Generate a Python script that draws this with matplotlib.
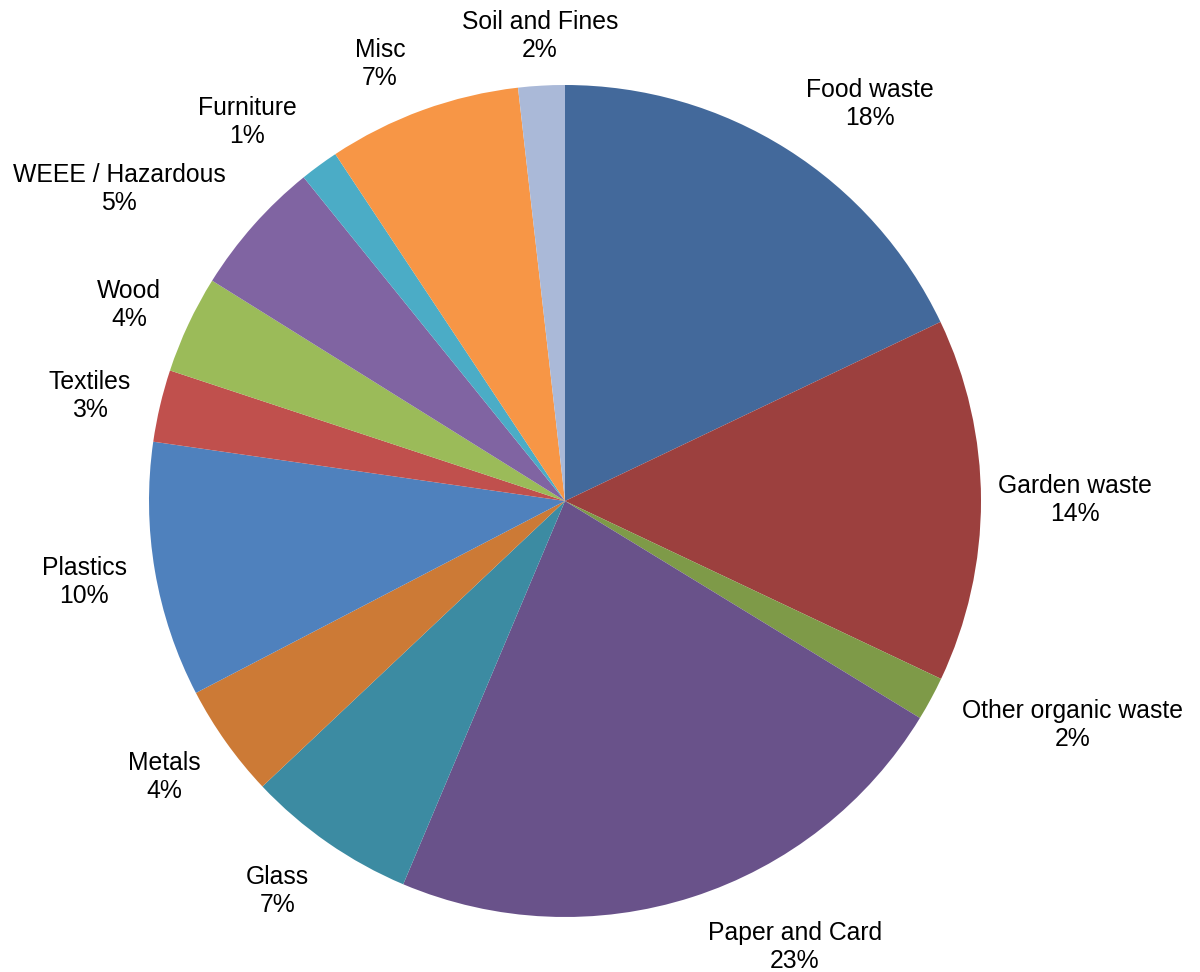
import matplotlib
matplotlib.use("Agg")
import matplotlib.pyplot as plt

plt.rcParams["font.family"] = ["Liberation Sans", "DejaVu Sans"]

# ── Data (clockwise from 12 o'clock) ─────────────────────────────────────────
categories = [
    "Food waste", "Garden waste", "Other organic waste", "Paper and Card",
    "Glass", "Metals", "Plastics", "Textiles", "Wood", "WEEE / Hazardous",
    "Furniture", "Misc", "Soil and Fines",
]
shares = [17.9, 14.1, 1.7, 22.6, 6.6, 4.4, 9.9, 2.8, 3.8, 5.3, 1.5, 7.5, 1.8]
shown_pct = [18, 14, 2, 23, 7, 4, 10, 3, 4, 5, 1, 7, 2]

colors = [
    "#43699B", "#9C403E", "#7E9A48", "#69528A", "#3C8BA2", "#CC7A36",
    "#4F81BD", "#C0504D", "#9BBB59", "#8064A2", "#4BACC6", "#F79646",
    "#AAB9D8",
]

# label centres in pie-radius units (Excel "best fit" placement)
label_xy = [
    (0.733, 0.954), (1.226, 0.002), (1.221, -0.538), (0.553, -1.072),
    (-0.692, -0.938), (-0.964, -0.663), (-1.156, -0.195), (-1.142, 0.252),
    (-1.048, 0.471), (-1.072, 0.750), (-0.764, 0.911), (-0.445, 1.050),
    (-0.060, 1.118),
]

# ── Figure ───────────────────────────────────────────────────────────────────
W, H, R = 1200, 972, 416          # pixels; R = pie radius
CX, CY = 565, 501                 # pie centre in pixels (from top-left)

fig = plt.figure(figsize=(W / 100, H / 100), dpi=100, facecolor="white")
ax = fig.add_axes([0, 0, 1, 1])

ax.pie(shares, colors=colors, startangle=90, counterclock=False,
       wedgeprops=dict(linewidth=0))

for name, pct, (x, y) in zip(categories, shown_pct, label_xy):
    ax.text(x, y, f"{name}\n{pct}%", ha="center", va="center",
            fontsize=17.8, color="#000000", linespacing=1.22)

ax.set_aspect("auto")
ax.set_xlim(-CX / R, (W - CX) / R)
ax.set_ylim((CY - H) / R, CY / R)
ax.axis("off")

fig.savefig("out.png", dpi=100, facecolor="white")
